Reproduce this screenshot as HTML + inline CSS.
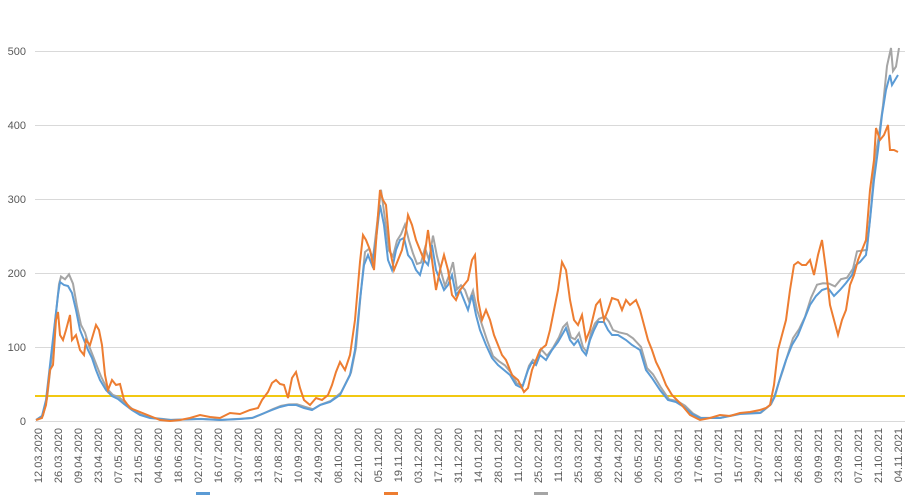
<!DOCTYPE html>
<html><head><meta charset="utf-8"><style>
html,body{margin:0;padding:0;background:#fff;}
svg{display:block;font-family:"Liberation Sans",sans-serif;}
</style></head><body>
<svg id="c" width="910" height="495" viewBox="0 0 910 495" xmlns="http://www.w3.org/2000/svg">
<rect width="910" height="495" fill="#fff"/>
<g stroke="#d9d9d9" stroke-width="1">
<line x1="35" x2="905" y1="51.5" y2="51.5"/>
<line x1="35" x2="905" y1="125.5" y2="125.5"/>
<line x1="35" x2="905" y1="199.5" y2="199.5"/>
<line x1="35" x2="905" y1="273.5" y2="273.5"/>
<line x1="35" x2="905" y1="347.5" y2="347.5"/>
<line x1="35" x2="905" y1="421.5" y2="421.5"/>
</g>
<g font-size="11" fill="#595959" text-anchor="end">
<text x="26" y="55">500</text><text x="26" y="129">400</text><text x="26" y="203">300</text>
<text x="26" y="277">200</text><text x="26" y="351">100</text><text x="26" y="425">0</text>
</g>
<line x1="35" x2="905" y1="396" y2="396" stroke="#f2c811" stroke-width="2"/>
<g id="lbl" font-size="11" fill="#595959"></g>
<polyline id="grey" fill="none" stroke="#a5a5a5" stroke-width="2"/>
<polyline id="blue" fill="none" stroke="#5b9bd5" stroke-width="2"/>
<polyline id="orange" fill="none" stroke="#ed7d31" stroke-width="2"/>
<g font-size="10" fill="#999">
<rect x="196" y="492" width="14" height="3" fill="#5b9bd5"/>
<rect x="384" y="492" width="14" height="3" fill="#ed7d31"/>
<rect x="534" y="492" width="14" height="3" fill="#a5a5a5"/>
</g>
</svg>
<script>
var labels="12.03.2020 26.03.2020 09.04.2020 23.04.2020 07.05.2020 21.05.2020 04.06.2020 18.06.2020 02.07.2020 16.07.2020 30.07.2020 13.08.2020 27.08.2020 10.09.2020 24.09.2020 08.10.2020 22.10.2020 05.11.2020 19.11.2020 03.12.2020 17.12.2020 31.12.2020 14.01.2021 28.01.2021 11.02.2021 25.02.2021 11.03.2021 25.03.2021 08.04.2021 22.04.2021 06.05.2021 20.05.2021 03.06.2021 17.06.2021 01.07.2021 15.07.2021 29.07.2021 12.08.2021 26.08.2021 09.09.2021 23.09.2021 07.10.2021 21.10.2021 04.11.2021".split(" ");
var g=document.getElementById("lbl"),s="";
labels.forEach(function(l,i){var x=38+i*(860/43)+4;s+='<text transform="translate('+x.toFixed(1)+',428) rotate(-90)" text-anchor="end">'+l+'</text>';});
g.innerHTML=s;
var O=[[36,420],[42,418],[46,405],[50,370],[53,365],[56,320],[58,312],[60,335],[63,340],[66,330],[70,315],[72,340],[76,335],[80,350],[84,355],[86,340],[90,345],[93,335],[96,325],[99,330],[102,345],[105,375],[108,390],[112,380],[116,385],[120,384],[124,400],[130,408],[140,412],[150,416],[160,420],[170,421],[180,420],[190,418],[200,415],[210,417],[220,418],[230,413],[240,414],[250,410],[258,408],[262,400],[268,392],[272,383],[276,380],[280,384],[284,385],[288,398],[292,378],[296,372],[300,388],[304,400],[310,405],[316,398],[322,400],[328,395],[332,385],[336,372],[340,362],[345,370],[350,355],[355,320],[360,262],[363,235],[366,240],[370,250],[374,270],[378,215],[380,190],[383,200],[386,205],[390,250],[394,270],[398,260],[402,250],[406,230],[408,215],[412,225],[416,240],[420,250],[424,260],[428,230],[432,260],[436,290],[440,270],[444,255],[448,270],[452,295],[456,300],[460,290],[464,285],[468,280],[472,260],[475,255],[478,300],[482,320],[486,310],[490,320],[494,335],[498,345],[502,355],[506,360],[512,375],[518,380],[524,392],[528,388],[532,370],[536,360],[540,350],[546,345],[550,330],[554,310],[558,290],[562,262],[566,270],[570,300],[574,320],[578,325],[582,315],[586,340],[590,330],[596,305],[600,300],[604,320],[608,310],[612,298],[618,300],[622,310],[626,300],[630,305],[636,300],[640,310],[644,325],[648,340],[652,350],[656,362],[660,370],[666,385],[672,395],[680,403],[690,415],[700,420],[710,418],[720,415],[730,416],[740,413],[750,412],[760,410],[766,408],[770,405],[774,385],[778,350],[782,335],[786,320],[790,290],[794,265],[798,262],[802,265],[806,265],[810,260],[814,275],[818,255],[822,240],[826,270],[830,305],[834,320],[838,335],[842,320],[846,310],[850,285],[854,275],[858,260],[862,250],[866,240],[870,190],[874,160],[876,128],[880,140],[884,135],[888,125],[890,150],[894,150],[898,152]];
var B=[[36,420],[42,416],[46,400],[50,365],[54,330],[58,295],[60,282],[64,285],[68,286],[72,293],[76,310],[80,330],[84,340],[88,350],[92,358],[96,370],[100,380],[106,390],[112,396],[118,399],[124,404],[132,410],[140,415],[150,418],[170,420],[200,419],[220,420],[240,419],[252,418],[262,414],[272,410],[280,407],[288,405],[296,405],[304,408],[312,410],[320,405],[330,402],[340,395],[350,375],[355,350],[360,300],[364,265],[368,255],[372,265],[376,240],[380,205],[384,225],[388,260],[392,270],[396,250],[400,240],[404,238],[408,255],[412,260],[416,270],[420,275],[424,260],[428,265],[432,245],[436,270],[440,280],[444,290],[448,285],[452,275],[456,295],[460,290],[464,300],[468,310],[472,295],[476,315],[480,330],[486,345],[492,358],[498,365],[504,370],[510,375],[516,385],[522,388],[528,370],[532,362],[536,365],[540,355],[546,360],[552,350],[558,342],[562,335],[566,328],[570,340],[574,345],[578,340],[582,350],[586,355],[590,340],[594,330],[598,322],[604,322],[608,330],[612,335],[618,335],[626,340],[632,345],[640,350],[646,370],[652,378],[660,390],[668,400],[676,402],[684,407],[692,414],[700,418],[720,418],[740,414],[760,413],[770,405],[774,398],[778,385],[782,372],[786,360],[792,345],[798,335],[804,320],[810,305],[816,296],[822,290],[828,288],[834,296],[840,290],[846,283],[852,275],[856,265],[860,262],[866,255],[870,220],[874,180],[878,150],[882,115],[886,90],[890,75],[892,85],[895,80],[898,75]];
var G=B.map(function(p,i){var f=1.06+0.03*Math.sin(i*1.7);var y=422-(422-p[1])*f;return [p[0]+1,Math.max(48,y)];});
function pts(a){return a.map(function(p){return p[0]+","+p[1].toFixed(1);}).join(" ");}
document.getElementById("orange").setAttribute("points",pts(O));
document.getElementById("blue").setAttribute("points",pts(B));
document.getElementById("grey").setAttribute("points",pts(G));
</script>
</body></html>
